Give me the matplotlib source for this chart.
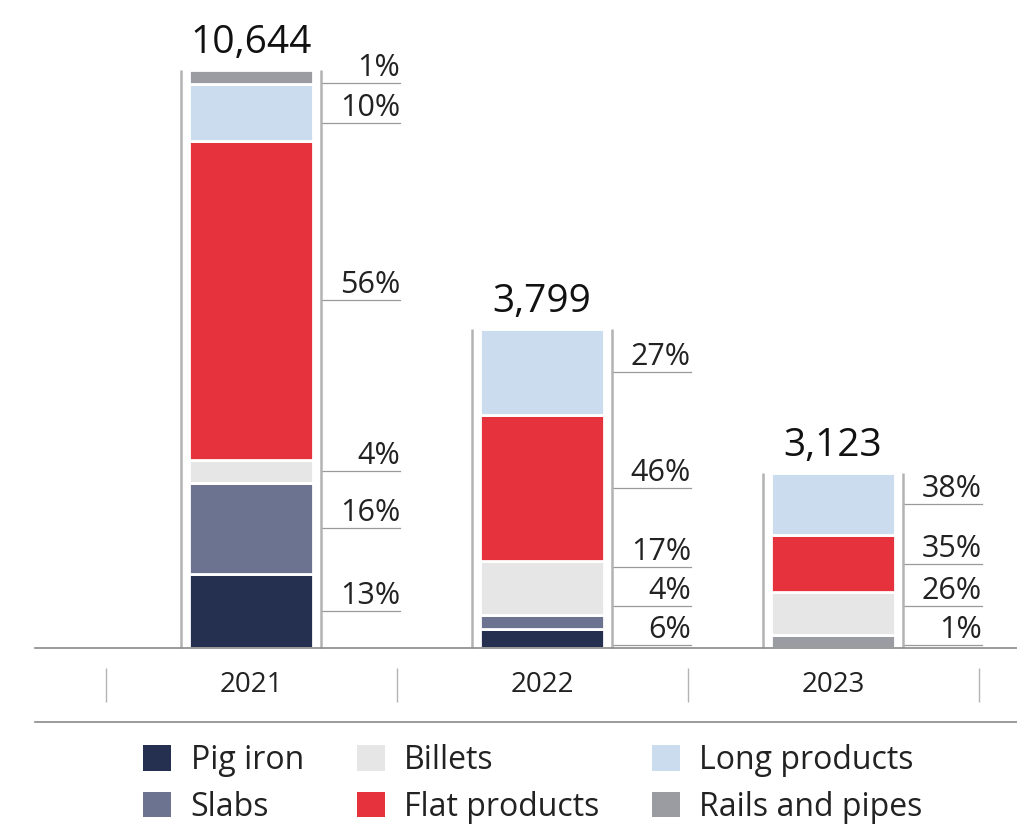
import numpy as np
import matplotlib.pyplot as plt
from matplotlib.patches import Patch

plt.rcParams['font.family'] = ['Open Sans', 'DejaVu Sans']

years = ['2021', '2022', '2023']
totals = [10644, 3799, 3123]
# drawn bar height (2021 = 100)
bar_height = [100, 55.2, 30.3]

products = ['Pig iron', 'Slabs', 'Billets', 'Flat products', 'Long products', 'Rails and pipes']
pig_iron = [13, 6, 0]
slabs = [16, 4, 0]
billets = [4, 17, 26]
flat_products = [56, 46, 35]
long_products = [10, 27, 38]
rails_pipes = [1, 0, 1]
shares = [pig_iron, slabs, billets, flat_products, long_products, rails_pipes]
colors = ['#252f50', '#6b7390', '#e6e6e6', '#e5323c', '#cbdcee', '#9a9ca1']
# stacking order, bottom to top (2023 puts rails and pipes at the bottom)
stack_order = [[0, 1, 2, 3, 4, 5], [0, 1, 2, 3, 4, 5], [5, 0, 1, 2, 3, 4]]

fig = plt.figure(figsize=(10.17, 8.26), dpi=100)
ax = fig.add_axes([0, 0, 1, 1])
ax.axis('off')
ax.set_xlim(-251 / 291, (1017 - 251) / 291)
ax.set_ylim(-178 / 5.78, (826 - 178) / 5.78)

x = np.arange(len(years))
bar_w = 0.426
side = 0.2405
lead = 0.512
min_seg = 2.4
gap = 6.8

for i in range(len(years)):
    raw = np.array([s[i] for s in shares], dtype=float) * bar_height[i] / 100
    seg = np.where(raw > 0, np.maximum(raw, min_seg), 0)
    seg = seg * bar_height[i] / seg.sum()
    bottom = 0
    centers, labels = [], []
    for k in stack_order[i]:
        if seg[k] > 0:
            ax.bar(x[i], seg[k], bar_w, bottom=bottom, color=colors[k],
                   edgecolor='white', linewidth=2)
            centers.append(bottom + seg[k] / 2)
            labels.append(f'{shares[k][i]}%')
        bottom += seg[k]
    # label positions
    ys = list(centers)
    ys[-1] = min(ys[-1], bar_height[i] - 2.3)
    for j in range(len(ys) - 2, -1, -1):
        ys[j] = min(ys[j], ys[j + 1] - gap)
    ys[0] = max(ys[0], 0.5)
    for j in range(1, len(ys)):
        ys[j] = max(ys[j], ys[j - 1] + gap)
    for yv, lab in zip(ys, labels):
        ax.plot([x[i] + side, x[i] + lead], [yv, yv], color='#9a9a9a', lw=0.9)
        ax.annotate(lab, (x[i] + lead, yv), xytext=(0, 5), textcoords='offset points',
                    ha='right', va='baseline', fontsize=22, color='#222222')
    ax.vlines([x[i] - side, x[i] + side], 0, bar_height[i], color='#b3b3b3', lw=1.8)
    ax.annotate(f'{totals[i]:,}', (x[i], bar_height[i]), xytext=(0, 12),
                textcoords='offset points', ha='center', va='baseline',
                fontsize=28, color='#111111')

# axis lines, year labels, separators
ax.plot([-0.742, 3], [0, 0], color='#8a8a8a', lw=1.2)
ax.plot([-0.742, 3], [-12.8, -12.8], color='#8a8a8a', lw=1.2)
ax.vlines([-0.5, 0.5, 1.5, 2.5], -9.34, -3.46, color='#b3b3b3', lw=1.0)
for i, yr in enumerate(years):
    ax.text(x[i], -6.4, yr, ha='center', va='center', fontsize=20, color='#222222')

handles = [Patch(facecolor=c, edgecolor='none') for c in colors]
fig.legend(handles, products, ncol=3, loc='center', bbox_to_anchor=(0.524, 0.051),
           frameon=False, fontsize=23, handlelength=0.88, handleheight=0.85,
           handletextpad=0.6, columnspacing=1.65, labelspacing=0.42, borderpad=0,
           labelcolor='#222222')

fig.savefig('out.png', dpi=100)
